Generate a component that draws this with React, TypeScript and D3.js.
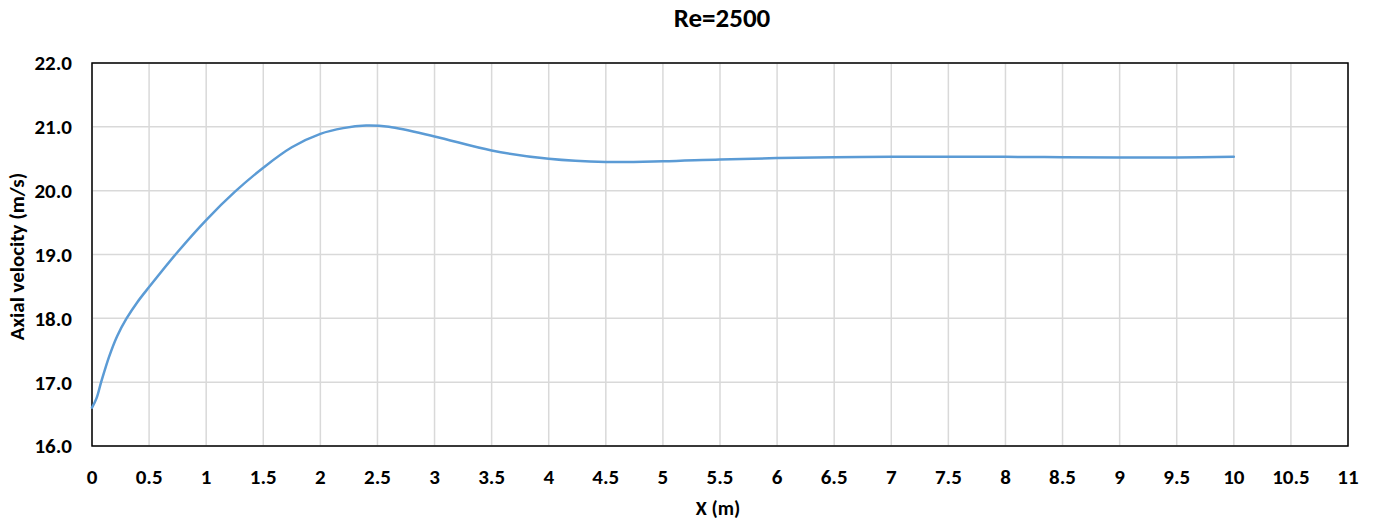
import React from "react";
import * as d3 from "d3";

const chartTitle = "Re=2500";
const xLabel = "X (m)";
const yLabel = "Axial velocity (m/s)";

// readings taken off the curve
const positions = [0, 0.04, 0.08, 0.15, 0.22, 0.3, 0.4, 0.5, 0.75, 1.0, 1.25, 1.5, 1.75, 2.0, 2.2, 2.4, 2.6, 3.0, 3.5, 4.0, 4.5, 5.0, 5.5, 6.0, 6.5, 7.0, 7.5, 8.0, 8.5, 9.0, 9.5, 10.0];
const velocities = [16.6, 16.75, 17.0, 17.4, 17.72, 17.99, 18.26, 18.49, 19.04, 19.54, 19.98, 20.36, 20.68, 20.89, 20.98, 21.02, 21.0, 20.85, 20.63, 20.5, 20.45, 20.46, 20.49, 20.51, 20.525, 20.53, 20.53, 20.53, 20.525, 20.52, 20.52, 20.53];

const xTicks = d3.range(0, 11.01, 0.5);
const yTicks = [16, 17, 18, 19, 20, 21, 22];

const W = 1378;
const H = 524;
const margin = { left: 92, right: 30, top: 63, bottom: 78 };
const font = "Carlito, Calibri, 'Liberation Sans', Arial, sans-serif";

export default function App() {
  const x = d3.scaleLinear().domain([0, 11]).range([margin.left, W - margin.right]);
  const y = d3.scaleLinear().domain([16, 22]).range([H - margin.bottom, margin.top]);

  const pts: [number, number][] = positions.map((p, i) => [p, velocities[i]]);
  const line = d3
    .line<[number, number]>()
    .x(d => x(d[0]))
    .y(d => y(d[1]))
    .curve(d3.curveCatmullRom.alpha(0.5));

  const [x0, x1] = x.range();
  const [y0, y1] = y.range();

  return (
    <svg width={W} height={H} style={{ position: "absolute", left: 0, top: 0, background: "#fff" }}>
      <text x={(x0 + x1) / 2 + 2} y={27} textAnchor="middle" fontFamily={font} fontWeight="bold" fontSize={27} fill="#000">
        {chartTitle}
      </text>

      <g stroke="#d9d9d9" strokeWidth={1.5}>
        {xTicks.map(t => (
          <line key={"gx" + t} x1={x(t)} x2={x(t)} y1={y1} y2={y0} />
        ))}
        {yTicks.map(t => (
          <line key={"gy" + t} x1={x0} x2={x1} y1={y(t)} y2={y(t)} />
        ))}
      </g>

      <rect x={x0} y={y1} width={x1 - x0} height={y0 - y1} fill="none" stroke="#000" strokeWidth={1.5} />

      <path d={line(pts) || ""} fill="none" stroke="#5b9bd5" strokeWidth={2.5} strokeLinejoin="round" strokeLinecap="round" />

      <g fontFamily={font} fontWeight="bold" fontSize={21} fill="#000">
        {yTicks.map(t => (
          <text key={"ty" + t} x={72} y={y(t)} dy="0.35em" textAnchor="end">
            {t.toFixed(1)}
          </text>
        ))}
        {xTicks.map(t => (
          <text key={"tx" + t} x={x(t)} y={y0 + 38} textAnchor="middle">
            {String(t)}
          </text>
        ))}
      </g>

      <text x={(x0 + x1) / 2 - 2} y={515} textAnchor="middle" fontFamily={font} fontWeight="bold" fontSize={20}>
        {xLabel}
      </text>
      <text
        transform={`translate(24, ${(y0 + y1) / 2 + 2}) rotate(-90)`}
        textAnchor="middle"
        fontFamily={font}
        fontWeight="bold"
        fontSize={21}
      >
        {yLabel}
      </text>
    </svg>
  );
}
